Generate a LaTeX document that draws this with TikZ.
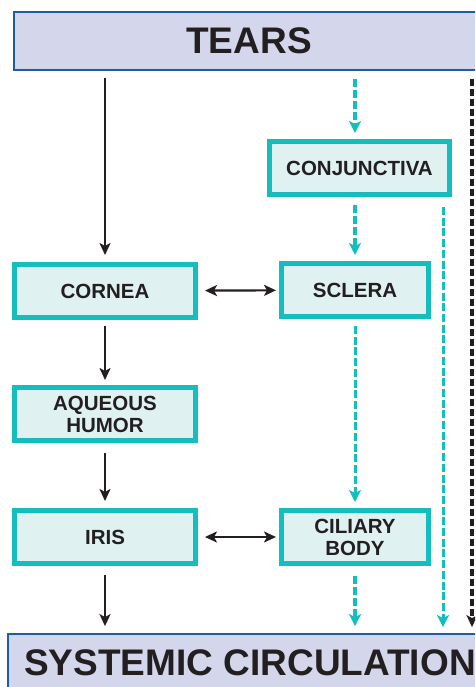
\documentclass[tikz,border=0pt]{standalone}
\usepackage{fontspec}
\setmainfont{Liberation Sans}
\usetikzlibrary{arrows.meta}
\definecolor{tealline}{HTML}{14BEBF}
\definecolor{tealfill}{HTML}{E0F1F1}
\definecolor{bandline}{HTML}{1F5CA8}
\definecolor{bandfill}{HTML}{D4D6EC}
\definecolor{inkgray}{HTML}{231F20}
\tikzset{
  tissue/.style={draw=tealline, line width=5pt, fill=tealfill, text=inkgray,
    minimum width=181pt, minimum height=53pt, inner sep=0pt, align=center,
    font=\fontsize{20.5}{22}\selectfont\bfseries},
  band/.style={draw=bandline, line width=1.8pt, fill=bandfill, text=inkgray,
    minimum height=58pt, inner sep=0pt, font=\fontsize{37}{40}\selectfont\bfseries},
  flow/.style={draw=inkgray, line width=2.2pt, -{Stealth[length=12pt,width=11pt,inset=3pt]}},
  swap/.style={draw=inkgray, line width=2.2pt, {Stealth[length=12pt,width=11pt,inset=3pt]}-{Stealth[length=12pt,width=11pt,inset=3pt]}},
  tflow/.style={draw=tealline, line width=3.4pt, dash pattern=on 8pt off 3pt,
    -{Stealth[length=12pt,width=12pt,inset=3pt]}},
  tthin/.style={draw=tealline, line width=3pt, dash pattern=on 8pt off 2.7pt,
    -{Stealth[length=12pt,width=12pt,inset=3pt]}},
  bdash/.style={draw=inkgray, line width=3.8pt, dash pattern=on 7pt off 3pt,
    -{Stealth[length=12pt,width=11pt,inset=3pt]}},
}
\begin{document}
\begin{tikzpicture}[x=1pt, y=-1pt]
  \clip (0,0) rectangle (475,687);
  \fill[white] (0,0) rectangle (475,687);
  % top and bottom bands
  \node[band, minimum width=470pt] (tears) at (249,41) {TEARS};
  \node[band, minimum width=484pt] (sys) at (250,663) {SYSTEMIC CIRCULATION};
  % tissues
  \node[tissue, minimum width=180pt] (conj) at (359.5,168) {CONJUNCTIVA};
  \node[tissue] (cornea) at (105,291) {CORNEA};
  \node[tissue, minimum width=147pt] (sclera) at (355,290) {SCLERA};
  \node[tissue] (aqueous) at (105,414) {AQUEOUS\\HUMOR};
  \node[tissue] (iris) at (105,537) {IRIS};
  \node[tissue, minimum width=147pt] (ciliary) at (355,537) {CILIARY\\BODY};
  \coordinate (lane) at (355,0);
  \coordinate (cvx) at (443,0);
  \coordinate (bx) at (472,0);
  % solid route
  \draw[flow, shorten <=7pt, shorten >=7pt] (tears.south -| cornea) -- (cornea);
  \draw[flow, shorten <=6pt, shorten >=5pt] (cornea) -- (aqueous);
  \draw[flow, shorten <=10pt, shorten >=7pt] (aqueous) -- (iris);
  \draw[flow, shorten <=9pt, shorten >=7pt] (iris) -- (iris |- sys.north);
  \draw[swap, shorten <=7pt, shorten >=3pt] (cornea) -- (sclera);
  \draw[swap, shorten <=7pt, shorten >=3pt] (iris) -- (ciliary);
  % dashed routes
  \draw[tflow, shorten <=8pt, shorten >=6pt] (tears.south -| lane) -- (conj.north -| lane);
  \draw[tflow, shorten <=8pt, shorten >=6pt] (conj.south -| lane) -- (sclera);
  \draw[tthin, shorten <=7pt, shorten >=6pt] (sclera) -- (ciliary);
  \draw[tflow, shorten <=10pt, shorten >=7pt] (ciliary) -- (ciliary |- sys.north);
  \draw[tthin, shorten <=10pt, shorten >=6pt] (conj.south -| cvx) -- (sys.north -| cvx);
  \draw[bdash, shorten <=8pt, shorten >=6pt] (tears.south -| bx) -- (sys.north -| bx);
\end{tikzpicture}
\end{document}
